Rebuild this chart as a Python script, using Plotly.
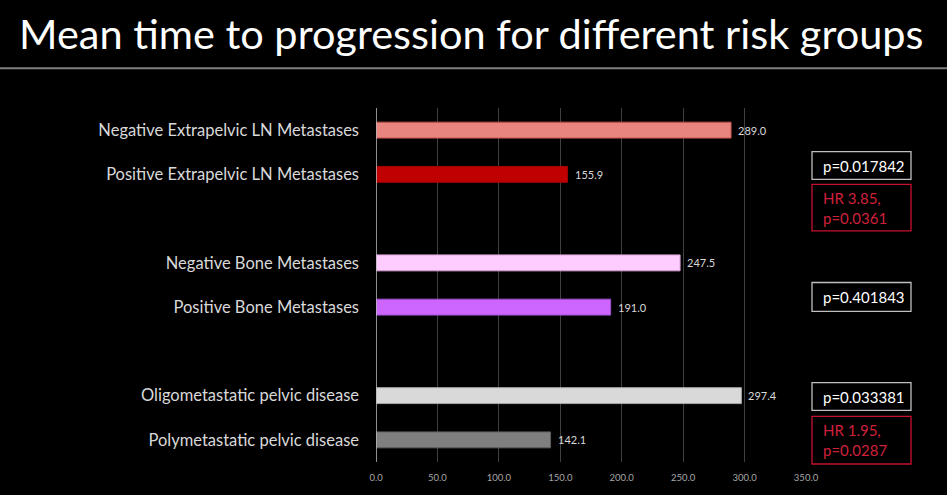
import plotly.graph_objects as go

categories = ["Negative Extrapelvic LN Metastases", "Positive Extrapelvic LN Metastases", "",
              "Negative Bone Metastases", "Positive Bone Metastases", "",
              "Oligometastatic pelvic disease", "Polymetastatic pelvic disease"]
values = [289.0, 155.9, None, 247.5, 191.0, None, 297.4, 142.1]
colors = ["#E8857F", "#C00000", "#000000", "#FFCCFF", "#CC66FF", "#000000", "#D9D9D9", "#7F7F7F"]
lines = ["#C0504D", "#A00000", "#000000", "#D9A0D9", "#A050D0", "#000000", "#A6A6A6", "#5F5F5F"]
x_ticks = [0, 50, 100, 150, 200, 250, 300, 350]
x_tick_labels = ["0.0", "50.0", "100.0", "150.0", "200.0", "250.0", "300.0", "350.0"]
title = "Mean time to progression for different risk groups"
p_boxes = [("p=0.017842", 152, 180), ("p=0.401843", 284, 313), ("p=0.033381", 385, 413)]
hr_boxes = [("HR 3.85,<br>p=0.0361", 185, 232), ("HR 1.95,<br>p=0.0287", 419, 467)]

W, H = 947, 495
L, R, T, B = 376, 806, 108, 465
pw, ph = R - L, B - T

def px(x):
    return (x - L) / pw

def py(y):
    return (B - y) / ph

idx = list(range(len(categories)))
fig = go.Figure()
fig.add_trace(go.Bar(
    y=idx, x=values, orientation="h",
    marker=dict(color=colors, line=dict(color=lines, width=1)),
    width=0.36, hoverinfo="skip",
))

shapes = []
annotations = []
for i, v in zip(idx, values):
    if v is not None:
        annotations.append(dict(text=f"{v:.1f}", xref="x", yref="y", x=v, y=i, xanchor="left",
                                yanchor="middle", xshift=5, showarrow=False,
                                font=dict(color="#D9D9D9", size=11, family="Lato")))
# title & separator line
annotations.append(dict(text=title, xref="paper", yref="paper", x=px(W / 2 - 2), y=py(32),
                        xanchor="center", yanchor="middle", showarrow=False,
                        font=dict(color="white", size=41.5, family="Lato")))
shapes.append(dict(type="line", xref="paper", yref="paper", x0=px(0), x1=px(W), y0=py(68), y1=py(68),
                   line=dict(color="#7F7F7F", width=2)))
for txt, y0, y1 in p_boxes:
    shapes.append(dict(type="rect", xref="paper", yref="paper", x0=px(812), x1=px(911), y0=py(y1), y1=py(y0),
                       line=dict(color="#BFBFBF", width=1.3)))
    annotations.append(dict(text=txt, xref="paper", yref="paper", x=px(821), y=py((y0 + y1) / 2),
                            xanchor="left", yanchor="middle", showarrow=False,
                            font=dict(color="white", size=15, family="Lato")))
for txt, y0, y1 in hr_boxes:
    shapes.append(dict(type="rect", xref="paper", yref="paper", x0=px(812), x1=px(911), y0=py(y1), y1=py(y0),
                       line=dict(color="#C8102E", width=1.3)))
    annotations.append(dict(text=txt, xref="paper", yref="paper", x=px(821), y=py((y0 + y1) / 2),
                            xanchor="left", yanchor="middle", showarrow=False, align="left",
                            font=dict(color="#D0213B", size=15, family="Lato")))

fig.update_layout(
    width=W, height=H,
    margin=dict(l=L, r=W - R, t=T, b=H - B, pad=0),
    paper_bgcolor="black", plot_bgcolor="black",
    showlegend=False,
    shapes=shapes, annotations=annotations,
    xaxis=dict(range=[0, 350], tickvals=x_ticks, ticktext=x_tick_labels,
               showgrid=True, gridcolor="#404040", gridwidth=1, zeroline=False,
               showline=False, ticks="", ticklabelstandoff=8,
               tickfont=dict(color="#A6A6A6", size=9.5, family="Lato"),
               fixedrange=True),
    yaxis=dict(range=[7.5, -0.5], tickvals=idx, ticktext=categories,
               showgrid=False, zeroline=False, showline=False, ticks="",
               ticklabelstandoff=16,
               tickfont=dict(color="#D9D9D9", size=16.5, family="Lato"), fixedrange=True),
)
fig.add_shape(type="line", xref="x", yref="paper", x0=0, x1=0, y0=0, y1=1,
              line=dict(color="#BFBFBF", width=1.5))
fig.write_html("out.html")
